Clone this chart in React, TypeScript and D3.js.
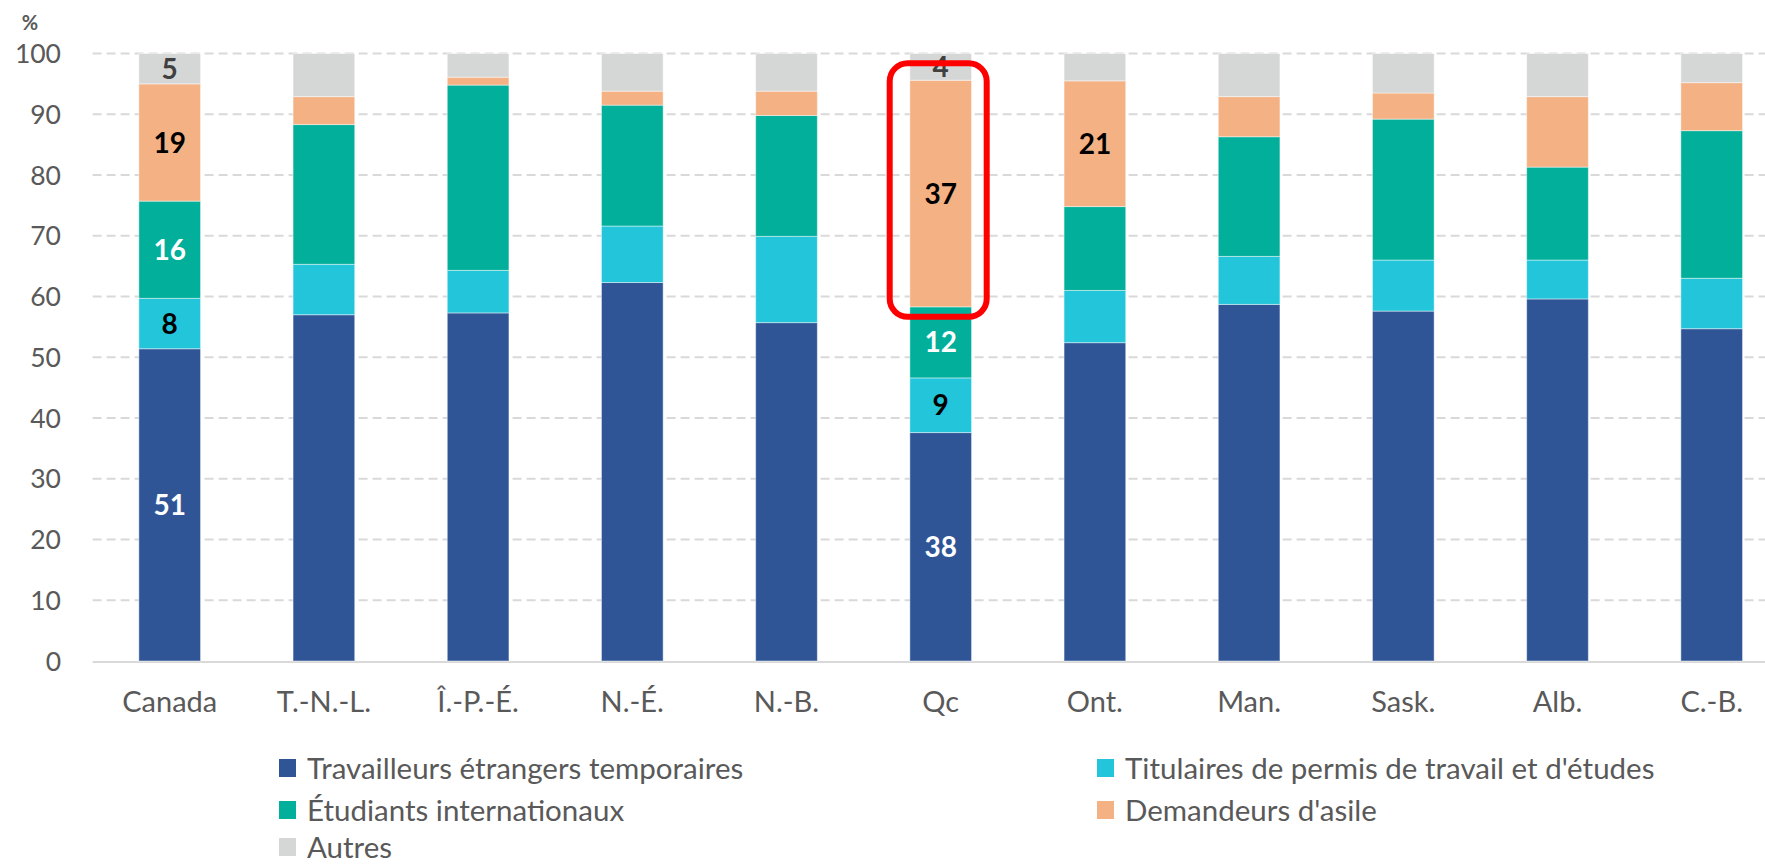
import React from 'react';
import * as d3 from 'd3';

const categories = ['Canada', 'T.-N.-L.', 'Î.-P.-É.', 'N.-É.', 'N.-B.', 'Qc', 'Ont.', 'Man.', 'Sask.', 'Alb.', 'C.-B.'];
const seriesNames = [
  'Travailleurs étrangers temporaires',
  "Titulaires de permis de travail et d'études",
  'Étudiants internationaux',
  "Demandeurs d'asile",
  'Autres',
];
const travailleurs = [51.4, 57.0, 57.3, 62.3, 55.7, 37.6, 52.4, 58.7, 57.6, 59.6, 54.7];
const titulaires = [8.3, 8.3, 7.0, 9.3, 14.2, 9.0, 8.6, 7.9, 8.4, 6.4, 8.3];
const etudiants = [16.0, 23.0, 30.5, 19.9, 19.9, 11.7, 13.8, 19.7, 23.2, 15.3, 24.3];
const demandeurs = [19.3, 4.6, 1.3, 2.3, 4.0, 37.3, 20.7, 6.6, 4.3, 11.6, 7.9];
const autres = [5.0, 7.1, 3.9, 6.2, 6.2, 4.4, 4.5, 7.1, 6.5, 7.1, 4.8];
const seriesColors = ['#2F5597', '#22C5DA', '#02AF9A', '#F4B183', '#D5D7D6'];
const labelColors = ['#FFFFFF', '#000000', '#FFFFFF', '#000000', '#404040'];
const yTicks = [0, 10, 20, 30, 40, 50, 60, 70, 80, 90, 100];
// cells that carry a value label: [category, series index]
const labeledCells: [string, number][] = [
  ['Canada', 0], ['Canada', 1], ['Canada', 2], ['Canada', 3], ['Canada', 4],
  ['Qc', 0], ['Qc', 1], ['Qc', 2], ['Qc', 3], ['Qc', 4],
  ['Ont.', 3],
];
const highlighted: [string, number] = ['Qc', 3];

const series = [travailleurs, titulaires, etudiants, demandeurs, autres];

export default function App() {
  const W = 1765, H = 865;
  const x0 = 92.6, y0 = 661, y100 = 53.5;
  const step = 154.2;
  const x = d3.scaleBand<string>().domain(categories).range([x0, x0 + step * categories.length]).paddingInner(0.6).paddingOuter(0.3);
  const y = d3.scaleLinear().domain([0, 100]).range([y0, y100]);

  const rows = categories.map((c, i) => {
    const r: any = { cat: c };
    series.forEach((s, k) => (r['s' + k] = s[i]));
    return r;
  });
  const stack = d3.stack<any>().keys(series.map((_, k) => 's' + k))(rows);

  const font = 'Lato, "Open Sans", sans-serif';
  const legendPos = [
    [279, 768], [1097, 768], [279, 810], [1097, 810], [279, 847],
  ];

  const hiSeg = stack[highlighted[1]][categories.indexOf(highlighted[0])];
  const hx = (x(highlighted[0]) as number) + x.bandwidth() / 2;

  return (
    <div>
      <svg width={W} height={H} style={{ position: 'absolute', left: 0, top: 0, background: '#fff' }} fontFamily={font}>
        <text x={30} y={30} textAnchor="middle" fontSize={20} fontWeight="bold" fill="#595959">%</text>
        {yTicks.map(t => (
          <g key={t}>
            {t > 0 && (
              <line x1={x0} x2={W} y1={y(t)} y2={y(t)} stroke="#D9D9D9" strokeWidth={2} strokeDasharray="9,5" />
            )}
            <text x={61} y={y(t)} dy="0.36em" textAnchor="end" fontSize={26.5} fill="#595959">{t}</text>
          </g>
        ))}
        <line x1={x0} x2={W} y1={y0 + 1} y2={y0 + 1} stroke="#D9D9D9" strokeWidth={2} />
        {stack.map((layer, k) => (
          <g key={k}>
            {layer.map((d, i) => (
              <rect key={i} x={x(categories[i])} width={x.bandwidth()} y={y(d[1])} height={y(d[0]) - y(d[1])}
                fill={seriesColors[k]} stroke="#ffffff" strokeOpacity={0.45} strokeWidth={1} />
            ))}
          </g>
        ))}
        {labeledCells.map(([c, k]) => {
          const i = categories.indexOf(c);
          const d = stack[k][i];
          const cx = (x(c) as number) + x.bandwidth() / 2;
          const cy = (y(d[0]) + y(d[1])) / 2;
          return (
            <text key={c + k} x={cx} y={cy} dy="0.36em" textAnchor="middle" fontSize={28} fontWeight="bold" fill={labelColors[k]}>
              {Math.round(series[k][i])}
            </text>
          );
        })}
        <rect x={hx - 51} width={97} y={y(hiSeg[1]) - 17} height={y(hiSeg[0]) - y(hiSeg[1]) + 27}
          rx={18} ry={18} fill="none" stroke="#FF0000" strokeWidth={6} />
        {categories.map(c => (
          <text key={c} x={(x(c) as number) + x.bandwidth() / 2} y={702} dy="0.36em" textAnchor="middle" fontSize={29} fill="#595959">{c}</text>
        ))}
        {seriesNames.map((n, k) => (
          <g key={n}>
            <rect x={legendPos[k][0]} y={legendPos[k][1] - 9} width={17} height={18} fill={seriesColors[k]} />
            <text x={legendPos[k][0] + 28} y={legendPos[k][1]} dy="0.36em" fontSize={29.5} fill="#595959">{n}</text>
          </g>
        ))}
      </svg>
    </div>
  );
}
